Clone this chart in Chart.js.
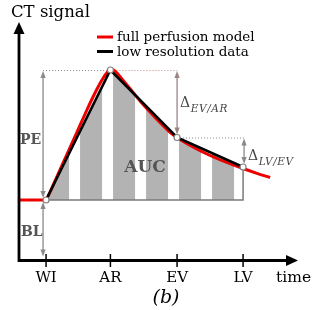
<!DOCTYPE html>
<html><head><meta charset="utf-8">
<script src="https://cdn.jsdelivr.net/npm/chart.js@4/dist/chart.umd.min.js"></script>
<style>html,body{margin:0;padding:0;background:#fff;overflow:hidden}#wrap{width:313px;height:310px;position:relative}</style>
</head><body><div id="wrap"><canvas id="c"></canvas></div>
<script>
// ---- data (time in arbitrary units, signal in arbitrary units) ----
const tickLabels   = ['WI', 'AR', 'EV', 'LV'];
const sampleTimes  = [0.82, 2.77, 4.79, 6.79];
const lowResSignal = [6.05, 19.05, 12.3, 9.35];
const modelTimes   = [0, 0.82, 0.87, 1.15, 1.45, 1.75, 2.05, 2.25, 2.42, 2.56, 2.67, 2.80, 2.94, 3.12, 3.36, 3.67, 3.97, 4.27, 4.55, 4.79, 5.33, 5.79, 6.24, 6.79, 7.21, 7.61];
const modelSignal  = [6.05, 6.05, 6.35, 8.4, 10.6, 12.8, 15.0, 16.4, 17.5, 18.3, 18.8, 19.15, 18.85, 18.15, 17.2, 15.95, 14.85, 13.8, 12.9, 12.3, 11.25, 10.5, 9.88, 9.2, 8.72, 8.3];
const baseline     = 6.05;
const seriesNames  = ['full perfusion model', 'low resolution data'];
const axisTitles   = ['CT signal', 'time'];
const regionLabels = ['PE', 'BL', 'AUC'];
const deltaLabels  = ['EV/AR', 'LV/EV'];
const panelLabel   = '(b)';

const RED = '#ee0000', GRAY = '#8a8a8a', TXT = '#555';
const SERIF = '"DejaVu Serif", "Liberation Serif", serif';

function stripePattern(chart) {
  const xs = chart.scales.x;
  const period = Math.round(xs.getPixelForValue(1) - xs.getPixelForValue(0));
  const c = document.createElement('canvas');
  c.width = period; c.height = 4;
  const g = c.getContext('2d');
  g.fillStyle = '#ffffff'; g.fillRect(0, 0, period, 4);
  g.fillStyle = '#b3b3b3'; g.fillRect(0, 0, Math.round(period * 2 / 3), 4);
  const p = chart.ctx.createPattern(c, 'repeat');
  const off = xs.getPixelForValue(sampleTimes[0]) + 1;
  p.setTransform(new DOMMatrix([1, 0, 0, 1, off, 0]));
  return p;
}

function head(ctx, x, y, dx, dy, len, hw) {
  ctx.beginPath();
  ctx.moveTo(x, y);
  ctx.lineTo(x - dx * len - dy * hw, y - dy * len + dx * hw);
  ctx.lineTo(x - dx * len + dy * hw, y - dy * len - dx * hw);
  ctx.closePath();
  ctx.fill();
}
function vArrow(ctx, x, yTop, yBot, color, both) {
  ctx.save();
  ctx.strokeStyle = color; ctx.fillStyle = color; ctx.lineWidth = 1.3;
  ctx.beginPath(); ctx.moveTo(x, yTop + (both ? 5 : 0)); ctx.lineTo(x, yBot - 5); ctx.stroke();
  head(ctx, x, yBot, 0, 1, 7, 2.6);
  if (both) head(ctx, x, yTop, 0, -1, 7, 2.6);
  ctx.restore();
}
function hDotted(ctx, x1, x2, y, color) {
  ctx.save();
  ctx.strokeStyle = color; ctx.lineWidth = 1; ctx.setLineDash([1, 2]);
  ctx.beginPath(); ctx.moveTo(x1, y + 0.5); ctx.lineTo(x2, y + 0.5); ctx.stroke();
  ctx.restore();
}

const schematic = {
  id: 'schematic',
  beforeDatasetsDraw(chart) {
    const {ctx, scales: {x, y}} = chart;
    const xW = x.getPixelForValue(sampleTimes[0]);
    const xA = x.getPixelForValue(sampleTimes[1]);
    const xE = x.getPixelForValue(sampleTimes[2]);
    const xL = x.getPixelForValue(sampleTimes[3]);
    const yB = y.getPixelForValue(baseline);
    const yA = y.getPixelForValue(lowResSignal[1]);
    const yE = y.getPixelForValue(lowResSignal[2]);
    const yL = y.getPixelForValue(lowResSignal[3]);
    // AUC outline
    ctx.save();
    ctx.strokeStyle = '#7a7a7a'; ctx.lineWidth = 1.5;
    ctx.beginPath(); ctx.moveTo(xW, yB); ctx.lineTo(xL, yB); ctx.lineTo(xL, yL); ctx.stroke();
    ctx.restore();
    // dotted guides
    hDotted(ctx, xW - 3, xA, yA, GRAY);
    hDotted(ctx, xA, xE, yA, '#c98a8a');
    hDotted(ctx, xE, xL + 2, yE, GRAY);
  },
  afterDatasetsDraw(chart) {
    const {ctx, chartArea: ca, scales: {x, y}} = chart;
    const xW = x.getPixelForValue(sampleTimes[0]);
    const xE = x.getPixelForValue(sampleTimes[2]);
    const xL = x.getPixelForValue(sampleTimes[3]);
    const yB = y.getPixelForValue(baseline);
    const yA = y.getPixelForValue(lowResSignal[1]);
    const yE = y.getPixelForValue(lowResSignal[2]);
    const yL = y.getPixelForValue(lowResSignal[3]);
    const y0 = y.getPixelForValue(0);

    // measurement arrows
    vArrow(ctx, xW - 3, yA + 1, yB - 2, GRAY, true);
    vArrow(ctx, xW - 3, yB + 2, y0 - 4, GRAY, true);
    vArrow(ctx, xE, yA + 1, yE - 3, '#9a8585', true);
    vArrow(ctx, xL + 1, yE + 1, yL - 3, GRAY, true);

    // region labels
    ctx.save();
    ctx.fillStyle = TXT;
    ctx.textBaseline = 'alphabetic';
    ctx.font = 'bold 14px ' + SERIF;
    ctx.textAlign = 'left';
    ctx.fillText(regionLabels[0], 20, (yA + yB) / 2 + 9);
    ctx.fillText(regionLabels[1], 21, (yB + y0) / 2 + 6);
    ctx.font = 'bold 17px ' + SERIF;
    ctx.textAlign = 'center';
    ctx.fillText(regionLabels[2], 145, 172);
    // delta labels
    ctx.fillStyle = '#444';
    ctx.textAlign = 'left';
    const drawDelta = (xx, base, sub) => {
      ctx.font = '14px ' + SERIF;
      ctx.fillText('\u0394', xx, base);
      const w = ctx.measureText('\u0394').width;
      ctx.font = 'italic 10.5px ' + SERIF;
      ctx.letterSpacing = '0.6px';
      ctx.fillText(sub, xx + w + 0.5, base + 5);
      ctx.letterSpacing = '0px';
    };
    drawDelta(xE + 3, 107, deltaLabels[0]);
    drawDelta(xL + 5, 160, deltaLabels[1]);
    ctx.restore();

    // axes
    ctx.save();
    ctx.strokeStyle = '#000'; ctx.fillStyle = '#000'; ctx.lineWidth = 2.8;
    ctx.beginPath();
    ctx.moveTo(ca.left, ca.bottom + 1.4); ctx.lineTo(ca.left, ca.top + 10);
    ctx.moveTo(ca.left - 1.4, ca.bottom); ctx.lineTo(ca.right - 10, ca.bottom);
    ctx.stroke();
    head(ctx, ca.left, ca.top, 0, -1, 12, 5.5);
    head(ctx, ca.right, ca.bottom, 1, 0, 12, 5.5);
    // ticks
    ctx.lineWidth = 1.5;
    sampleTimes.forEach(t => {
      const px = x.getPixelForValue(t);
      ctx.beginPath(); ctx.moveTo(px, ca.bottom - 6.5); ctx.lineTo(px, ca.bottom + 6.5); ctx.stroke();
    });
    ctx.font = '15px ' + SERIF;
    ctx.textAlign = 'center'; ctx.textBaseline = 'alphabetic';
    sampleTimes.forEach((t, i) => ctx.fillText(tickLabels[i], x.getPixelForValue(t), 282));
    ctx.textAlign = 'left';
    ctx.font = '15.5px ' + SERIF;
    ctx.fillText(axisTitles[1], 276, 282);
    ctx.font = '16.5px ' + SERIF;
    ctx.fillText(axisTitles[0], 11, 17);
    ctx.font = 'italic 19px ' + SERIF;
    ctx.textAlign = 'center';
    ctx.fillText(panelLabel, 166, 303);
    // legend
    ctx.textAlign = 'left';
    ctx.font = '13.5px ' + SERIF;
    const ds = chart.data.datasets;
    [[37, 41], [51.5, 55.5]].forEach(([ly, tb], i) => {
      ctx.strokeStyle = ds[i].borderColor; ctx.lineWidth = 3;
      ctx.beginPath(); ctx.moveTo(97, ly); ctx.lineTo(113, ly); ctx.stroke();
      ctx.fillStyle = '#000';
      ctx.fillText(ds[i].label, 117, tb);
    });
    ctx.restore();
  }
};

new Chart(document.getElementById('c'), {
  type: 'line',
  data: {
    datasets: [
      {
        label: seriesNames[0],
        data: modelTimes.map((t, i) => ({x: t, y: modelSignal[i]})),
        borderColor: RED, borderWidth: 3, pointRadius: 0, fill: false,
        cubicInterpolationMode: 'monotone', order: 2
      },
      {
        label: seriesNames[1],
        data: sampleTimes.map((t, i) => ({x: t, y: lowResSignal[i]})),
        borderColor: '#000', borderWidth: 2.6, tension: 0,
        fill: {value: baseline},
        backgroundColor: (c) => c.chart.chartArea ? stripePattern(c.chart) : '#b3b3b3',
        pointRadius: 3, pointBackgroundColor: '#fff', pointBorderColor: '#808080', pointBorderWidth: 1.2,
        order: 1
      }
    ]
  },
  options: {
    responsive: true, maintainAspectRatio: false, animation: false, events: [],
    layout: {padding: {left: 19, right: 15, top: 22, bottom: 49.5}},
    scales: {
      x: {type: 'linear', display: false, min: 0, max: 8.4545},
      y: {display: false, min: 0, max: 23.85}
    },
    plugins: {
      legend: {display: false}, tooltip: {enabled: false},
      filler: {drawTime: 'beforeDatasetsDraw'}
    }
  },
  plugins: [schematic]
});
</script></body></html>
